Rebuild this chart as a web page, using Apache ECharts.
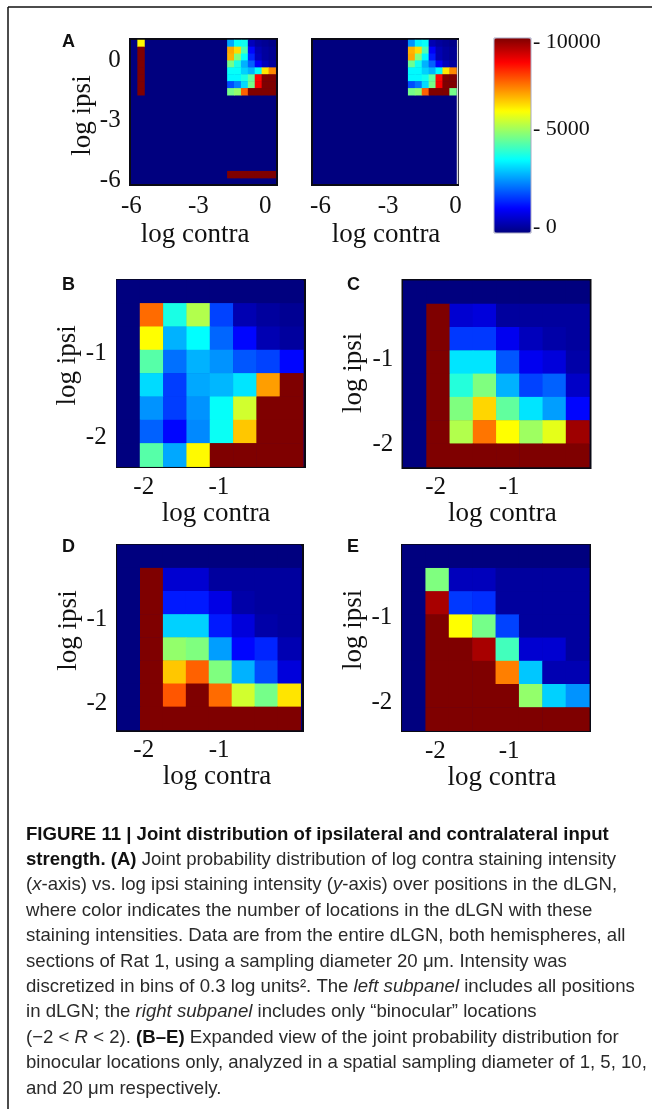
<!DOCTYPE html>
<html><head><meta charset="utf-8">
<style>html,body{margin:0;padding:0;background:#fff}#c{width:658px;height:1109px}</style>
<script src="https://cdn.jsdelivr.net/npm/echarts@6/dist/echarts.min.js"></script>
</head><body><div id="c"></div>
<script>
// ---- data (counts per bin, rows listed top to bottom) ----
const binsA = ['b0','b1','b2','b3','b4','b5','b6','b7','b8','b9','b10','b11','b12','b13','b14','b15','b16','b17','b18','b19','b20'];
const binsExpanded = ['b0','b1','b2','b3','b4','b5','b6','b7'];
const colorbarTicks = [0, 5000, 10000];

// panel A: bins that are not listed are zero. [column, row, count]
const aLeftColumn = [[1,0,6300],[1,1,10000],[1,2,10000],[1,3,10000],[1,4,10000],[1,5,10000],[1,6,10000],[1,7,10000]];
const aLeftBottom = [[14,19,10000],[15,19,10000],[16,19,10000],[17,19,10000],[18,19,10000],[19,19,10000],[20,19,10000]];
const aLeftBlock = [
 [2900,3800,3900, 600, 300, 200, 100],
 [7100,6600,4500,1300, 500, 300, 200],
 [7000,5000,3800,1600, 600, 300, 200],
 [4900,4000,3000,2200,1200, 600, 300],
 [3800,3800,3300,3000,3800,6500,7400],
 [3700,3700,4000,4700,8700,10000,10000],
 [2000,2500,3400,4900,8800,10000,10000],
 [4900,5200,7800,10000,10000,10000,10000]
];
const aRightBlock = [
 [2700,3600,3800, 500, 300, 200, 100],
 [7000,6600,4500,1200, 500, 300, 200],
 [7100,5000,3700,1500, 500, 300, 200],
 [4800,3900,3000,2200,1200, 600, 300],
 [3700,3700,3300,3000,3700,6500,7400],
 [3700,3700,3900,4700,8700,10000,10000],
 [2000,2400,3400,4900,8800,10000,10000],
 [4900,5100,7800,10000,10000,10000,4900]
];
const panelB = [
 [0,0,0,0,0,0,0,0],
 [0,7700,4000,5500,1900,500,300,200],
 [0,6250,3000,3750,2250,1300,500,300],
 [0,4600,2350,3000,2700,2100,1900,1300],
 [0,3400,1850,2900,3050,3500,7200,10000],
 [0,2700,1850,2700,3800,5800,10000,10000],
 [0,2200,1300,2600,3850,6800,10000,10000],
 [0,4600,2900,6300,10000,10000,10000,10000]
];
const panelC = [
 [0,0,0,0,0,0,0,0],
 [0,10000,800,900,300,300,300,300],
 [0,10000,1800,1800,1100,600,400,300],
 [0,10000,3500,3500,2100,1100,900,400],
 [0,10000,4100,5000,3000,1900,2200,700],
 [0,10000,5000,6650,4700,3500,2800,1300],
 [0,10000,5500,7600,6250,5300,6000,9700],
 [0,10000,10000,10000,10000,10000,10000,10000]
];
const panelD = [
 [0,0,0,0,0,0,0,0],
 [0,10000,800,800,300,300,300,300],
 [0,10000,1500,1500,1000,400,300,300],
 [0,10000,3300,3300,1500,900,400,300],
 [0,10000,5200,5000,2800,1300,1600,500],
 [0,10000,6800,7800,5000,3000,2000,900],
 [0,10000,7900,10000,7700,5800,4900,6500],
 [0,10000,10000,10000,10000,10000,10000,10000]
];
const panelE = [
 [0,0,0,0,0,0,0,0],
 [0,5000,600,600,300,300,300,300],
 [0,9600,1800,1700,300,300,300,300],
 [0,10000,6250,4900,1900,300,300,300],
 [0,10000,10000,9600,4400,800,800,300],
 [0,10000,10000,10000,7500,3200,500,500],
 [0,10000,10000,10000,10000,5200,3300,2700],
 [0,10000,10000,10000,10000,10000,10000,10000]
];
const ticksA = [-6, -3, 0];
const ticksExpanded = [-2, -1];

// ---- helpers ----
const toCells = rows => rows.flatMap((r, y) => r.map((v, x) => [x, y, v]));
const offsetCells = (rows, dx) => rows.flatMap((r, y) => r.map((v, x) => [x + dx, y, v]));
const JET = ['#00007f','#0000ff','#007fff','#00ffff','#7fff7f','#ffff00','#ff7f00','#ff0000','#7f0000'];
const SERIF = '"Liberation Serif", serif';
const NAVY = '#00007f';

const panels = [
 {cats:binsA, cells:[...aLeftColumn,...aLeftBottom,...offsetCells(aLeftBlock,14)], ticks:ticksA,
  frame:[130,39,147,146], rect:[130.7,40,145,145], x:[-6.03,0.47], y:[-6.25,1], nx:-16, ny:-6, xg:32, ng:36, lm:9},
 {cats:binsA, cells:offsetCells(aRightBlock,14), ticks:ticksA,
  frame:[312,39,146,146], rect:[311.5,40,145,145], x:[-6.4,0.04], y:[-6.25,1], nx:4, ny:6, xg:47, ng:36, lm:9, noY:true},
 {cats:binsExpanded, cells:toCells(panelB), ticks:ticksExpanded,
  frame:[117,280,188,187], rect:[116.7,280,186.6,186.7], x:[-2.36,0.124], y:[-2.354,-0.13], nx:12, ny:16, xg:35, ng:30, lm:8},
 {cats:binsExpanded, cells:toCells(panelC), ticks:ticksExpanded,
  frame:[402.5,280,188,188], rect:[403.3,280.7,186,186.3], x:[-2.44,0.09], y:[-2.27,-0.08], nx:12, ny:2, xg:36, ng:30, lm:8},
 {cats:binsExpanded, cells:toCells(panelD), ticks:ticksExpanded,
  frame:[117,545,186,186], rect:[117.3,545,183.4,185], x:[-2.35,0.08], y:[-2.32,-0.12], nx:16, ny:14, xg:34, ng:30, lm:8},
 {cats:binsExpanded, cells:toCells(panelE), ticks:ticksExpanded,
  frame:[402,545,188,186], rect:[402.3,545,187,185.7], x:[-2.45,0.09], y:[-2.33,-0.14], nx:12, ny:16, xg:35, ng:30, lm:8}
];

const grids = [], xAxes = [], yAxes = [], series = [], elements = [];
panels.forEach((p, i) => {
  grids.push({left:p.rect[0], top:p.rect[1], width:p.rect[2], height:p.rect[3], containLabel:false});
  const label = {show:true, customValues:p.ticks, color:'#111', fontFamily:SERIF, fontSize:25, margin:p.lm, formatter:v=>String(v), hideOverlap:false};
  const bare = {axisLine:{show:false}, axisTick:{show:false}, splitLine:{show:false}};
  // category axes place the cells, value axes carry the log ticks
  xAxes.push({type:'category', gridIndex:i, data:p.cats, show:false});
  yAxes.push({type:'category', gridIndex:i, data:p.cats, inverse:true, show:false});
  xAxes.push({type:'value', gridIndex:i, position:'bottom', min:p.x[0], max:p.x[1], ...bare, axisLabel:label,
    name:'log contra', nameLocation:'middle', nameGap:p.ng,
    nameTextStyle:{color:'#111', fontFamily:SERIF, fontSize:27, padding:p.nx>=0?[0,0,0,p.nx]:[0,-p.nx,0,0]}});
  yAxes.push({type:'value', gridIndex:i, position:'left', min:p.y[0], max:p.y[1], ...bare,
    axisLabel:p.noY?{show:false}:{...label, margin:10},
    name:p.noY?'':'log ipsi', nameLocation:'middle', nameGap:p.xg,
    nameTextStyle:{color:'#111', fontFamily:SERIF, fontSize:27, padding:p.ny>=0?[0,0,0,p.ny]:[0,-p.ny,0,0]}});
  series.push({type:'heatmap', xAxisIndex:i*2, yAxisIndex:i*2, data:p.cells, progressive:0, animation:false, itemStyle:{borderWidth:0}, emphasis:{disabled:true}});
  elements.push({type:'rect', z:-1, shape:{x:p.frame[0], y:p.frame[1], width:p.frame[2], height:p.frame[3]},
    style:{fill:NAVY, stroke:'#0a0a14', lineWidth:2}});
});
// colour bar axis
const cbIndex = panels.length;
grids.push({left:494, top:38, width:37, height:195, show:true, borderColor:'#a9a9c4', borderWidth:1, backgroundColor:'transparent', z:9});
xAxes.push({type:'category', gridIndex:cbIndex, data:['c'], show:false});
yAxes.push({type:'value', gridIndex:cbIndex, position:'right', min:-324, max:10216,
  axisLine:{show:false}, axisTick:{show:false}, splitLine:{show:false},
  axisLabel:{customValues:colorbarTicks, margin:2, color:'#111', fontFamily:SERIF, fontSize:22, hideOverlap:false,
    formatter:v=> v===5000 ? '{m|- '+v+'}' : '- '+v,
    rich:{m:{color:'#111', fontFamily:SERIF, fontSize:22, padding:[0,0,11,0]}}}});

// outer frame, panel letters, caption
elements.push({type:'line', shape:{x1:8,y1:7,x2:8,y2:1109}, style:{stroke:'#111', lineWidth:1.5}});
elements.push({type:'line', shape:{x1:8,y1:7,x2:652,y2:7}, style:{stroke:'#111', lineWidth:1.5}});
elements.push({type:'line', shape:{x1:457.5,y1:40,x2:457.5,y2:184}, style:{stroke:'#d8d8d8', lineWidth:1.5}});
[['A',62,33],['B',62,276],['C',347,276],['D',62,538],['E',347,538]].forEach(([t,x,y]) =>
  elements.push({type:'text', x, y, style:{text:t, fill:'#111', font:'bold 18px "Liberation Sans", sans-serif'}}));

const captionLines = [
 '{b|FIGURE 11 | Joint distribution of ipsilateral and contralateral input}',
 '{b|strength. (A)} Joint probability distribution of log contra staining intensity',
 '({i|x}-axis) vs. log ipsi staining intensity ({i|y}-axis) over positions in the dLGN,',
 'where color indicates the number of locations in the dLGN with these',
 'staining intensities. Data are from the entire dLGN, both hemispheres, all',
 'sections of Rat 1, using a sampling diameter 20 μm. Intensity was',
 'discretized in bins of 0.3 log units². The {i|left subpanel} includes all positions',
 'in dLGN; the {i|right subpanel} includes only “binocular” locations',
 '(−2 < {i|R} < 2). {b|(B–E)} Expanded view of the joint probability distribution for',
 'binocular locations only, analyzed in a spatial sampling diameter of 1, 5, 10,',
 'and 20 μm respectively.'
];
const capFont = 'Liberation Sans', capSize = 18.6;
captionLines.forEach((t, i) => elements.push({type:'text', x:26, y:825 + i*25.4, style:{
  text:t, fill:'#2a2a2a', font:capSize+'px "'+capFont+'", sans-serif',
  rich:{b:{fontFamily:capFont, fontSize:capSize, fontWeight:'bold', fill:'#111'},
        i:{fontFamily:capFont, fontSize:capSize, fontStyle:'italic', fill:'#2a2a2a'}}}}));

const chart = echarts.init(document.getElementById('c'), null, {renderer:'canvas', width:658, height:1109});
chart.setOption({
  animation:false, backgroundColor:'#fff', tooltip:{show:false},
  grid:grids, xAxis:xAxes, yAxis:yAxes, series,
  graphic:{elements},
  visualMap:{type:'continuous', min:0, max:10000, show:true, calculable:false, hoverLink:false, left:494, top:38, padding:0,
    itemWidth:37, itemHeight:195, borderRadius:0, showLabel:false, realtime:false, seriesIndex:series.map((_,i)=>i),
    inRange:{color:JET}, textStyle:{color:'transparent', fontSize:1}}
});
</script></body></html>
